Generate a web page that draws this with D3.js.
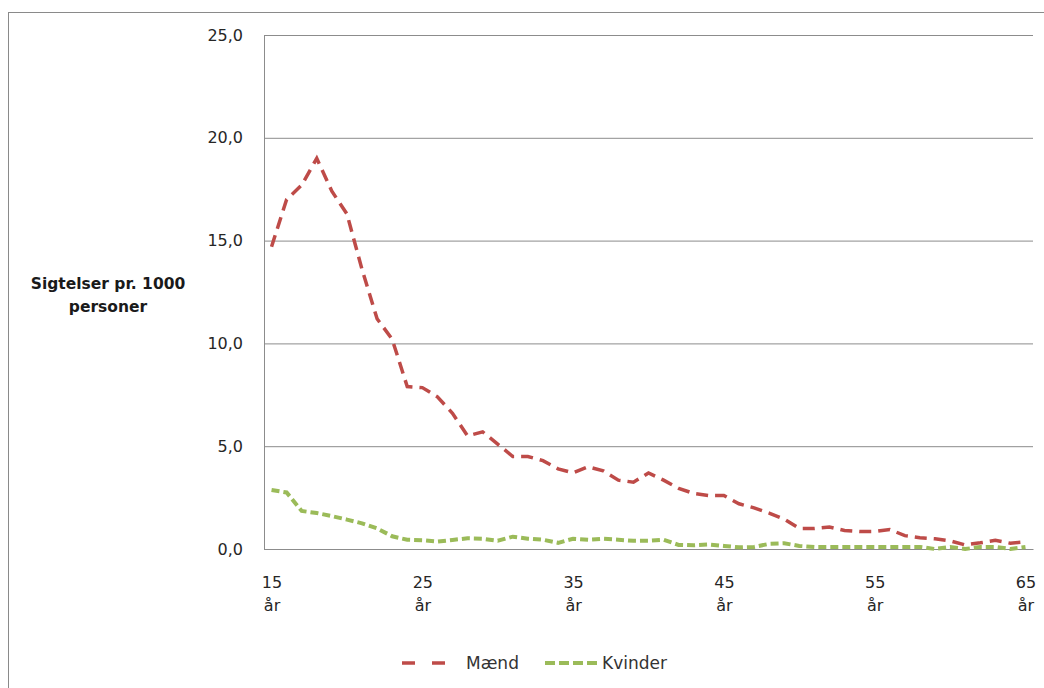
<!DOCTYPE html>
<html>
<head>
<meta charset="utf-8">
<script src="https://cdn.jsdelivr.net/npm/d3@7"></script>
<style>
  html, body { margin: 0; padding: 0; background: #ffffff; }
  svg { display: block; }
</style>
</head>
<body>
<svg id="chart" width="1044" height="688"></svg>
<script>
// ---- data ----
const ages = [15,16,17,18,19,20,21,22,23,24,25,26,27,28,29,30,31,32,33,34,35,36,37,38,39,40,
              41,42,43,44,45,46,47,48,49,50,51,52,53,54,55,56,57,58,59,60,61,62,63,64,65];
const maend = [14.7,17.0,17.7,19.0,17.4,16.3,13.6,11.2,10.2,7.9,7.85,7.4,6.6,5.5,5.7,5.1,4.5,4.5,4.3,3.9,
               3.7,4.0,3.8,3.35,3.25,3.7,3.35,2.95,2.7,2.6,2.6,2.2,2.0,1.75,1.45,1.0,1.0,1.07,0.9,0.85,
               0.85,0.95,0.65,0.55,0.5,0.4,0.2,0.3,0.42,0.28,0.35];
const kvinder = [2.87,2.75,1.85,1.75,1.6,1.43,1.25,1.0,0.62,0.45,0.43,0.36,0.44,0.52,0.5,0.4,0.6,0.5,0.45,0.3,
                 0.5,0.45,0.5,0.45,0.4,0.4,0.45,0.2,0.18,0.22,0.15,0.08,0.1,0.25,0.28,0.15,0.1,0.1,0.1,0.1,
                 0.1,0.1,0.1,0.1,0.0,0.1,0.0,0.1,0.1,0.0,0.1];
const xTickAges = [15,25,35,45,55,65];
const xTickUnit = "år";
const yTicks = [0,5,10,15,20,25];
const seriesNames = ["Mænd","Kvinder"];
const yTitleLines = ["Sigtelser pr. 1000","personer"];

(function() {
// ---- layout ----
const svg = d3.select("#chart");
const pLeft = 264, pRight = 1033, pTop = 35, pBottom = 549;
const fontFam = "'DejaVu Sans', 'Liberation Sans', sans-serif";
const red = "#BE4B48", green = "#9BBB59";

// outer chart border (only top/left visible)
svg.append("rect").attr("x", 8.5).attr("y", 12.5).attr("width", 1200).attr("height", 900)
  .attr("fill", "none").attr("stroke", "#8a8a8a").attr("stroke-width", 1);

const x = d3.scalePoint().domain(ages).range([pLeft, pRight]).padding(0.5);
const y = d3.scaleLinear().domain([0, 25]).range([pBottom, pTop]);

// gridlines + y tick labels
const yAxis = svg.append("g").attr("transform", `translate(${pLeft},0)`)
  .call(d3.axisLeft(y).tickValues(yTicks).tickSize(-(pRight - pLeft)).tickPadding(21)
        .tickFormat(d => d.toFixed(1).replace(".", ",")));
yAxis.select(".domain").remove();
yAxis.selectAll(".tick line").attr("stroke", "#8c8c8c").attr("stroke-width", 1);
yAxis.selectAll(".tick text").attr("fill", "#262626").style("font-family", fontFam).style("font-size", "16px");

// axis lines
svg.append("line").attr("x1", pLeft + 0.5).attr("x2", pLeft + 0.5).attr("y1", pTop).attr("y2", pBottom)
  .attr("stroke", "#8c8c8c");
const xAxis = svg.append("g").attr("transform", `translate(0,${pBottom})`)
  .call(d3.axisBottom(x).tickValues(xTickAges).tickSize(0));
xAxis.select(".domain").attr("stroke", "#8c8c8c");
xAxis.selectAll(".tick text").each(function(d) {
  const t = d3.select(this);
  t.text(null).attr("dy", null).attr("y", null)
    .attr("fill", "#262626").style("font-family", fontFam).style("font-size", "16px");
  t.append("tspan").attr("x", 0).attr("y", 39).text(d);
  t.append("tspan").attr("x", 0).attr("y", 62).text(xTickUnit);
});

// y-axis title
const yt = svg.append("text").attr("text-anchor", "middle").attr("fill", "#1a1a1a")
  .style("font-family", fontFam).style("font-size", "15.5px").style("font-weight", "bold");
yTitleLines.forEach((s, i) => yt.append("tspan").attr("x", 108).attr("y", 289 + i * 23).text(s));

// lines
const line = d3.line().x((d, i) => x(ages[i])).y(d => y(d));
svg.append("path").datum(maend).attr("d", line).attr("fill", "none")
  .attr("stroke", red).attr("stroke-width", 3.5).attr("stroke-dasharray", "12,7");
svg.append("path").datum(kvinder).attr("d", line).attr("fill", "none")
  .attr("stroke", green).attr("stroke-width", 4).attr("stroke-dasharray", "8,4");

// legend
const ly = 663;
svg.append("line").attr("x1", 402).attr("x2", 446).attr("y1", ly).attr("y2", ly)
  .attr("stroke", red).attr("stroke-width", 3.5).attr("stroke-dasharray", "13,17");
svg.append("text").attr("x", 466).attr("y", ly + 6).text(seriesNames[0])
  .attr("fill", "#333").style("font-family", fontFam).style("font-size", "17px");
svg.append("line").attr("x1", 545).attr("x2", 600).attr("y1", ly).attr("y2", ly)
  .attr("stroke", green).attr("stroke-width", 4).attr("stroke-dasharray", "10,4");
svg.append("text").attr("x", 602).attr("y", ly + 6).text(seriesNames[1])
  .attr("fill", "#333").style("font-family", fontFam).style("font-size", "17px");
})();
</script>
</body>
</html>
